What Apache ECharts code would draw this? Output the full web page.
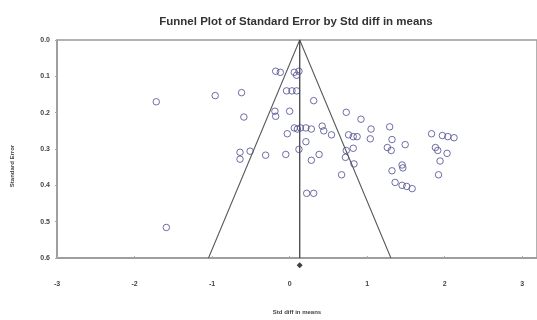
<!DOCTYPE html>
<html>
<head>
<meta charset="utf-8">
<script src="https://cdn.jsdelivr.net/npm/echarts@6/dist/echarts.min.js"></script>
<style>
  html, body { margin: 0; padding: 0; background: #fff; }
  #funnel { width: 537px; height: 320px; }
</style>
</head>
<body>
<div id="funnel"></div>
<script>
// study points: [std diff in means, standard error]
const studies = [
  [-1.72, 0.170], [-0.96, 0.153], [-0.62, 0.145], [-0.59, 0.212], [-0.64, 0.309],
  [-0.64, 0.328], [-0.51, 0.306], [-0.31, 0.317], [-1.59, 0.516], [-0.18, 0.086],
  [-0.12, 0.089], [0.06, 0.089], [0.12, 0.086], [0.09, 0.097], [-0.04, 0.140],
  [0.03, 0.140], [0.09, 0.140], [0.00, 0.196], [-0.19, 0.196], [-0.18, 0.210],
  [0.31, 0.167], [-0.03, 0.258], [0.06, 0.242], [0.14, 0.242], [0.21, 0.242],
  [0.28, 0.245], [0.10, 0.245], [0.73, 0.199], [0.92, 0.218], [1.05, 0.245],
  [1.29, 0.239], [1.83, 0.258], [1.97, 0.263], [2.04, 0.266], [2.12, 0.269],
  [0.42, 0.237], [0.44, 0.250], [0.54, 0.261], [0.76, 0.261], [0.82, 0.266],
  [0.87, 0.266], [1.04, 0.272], [1.32, 0.274], [1.49, 0.288], [1.26, 0.296],
  [1.31, 0.304], [1.88, 0.296], [1.91, 0.304], [2.03, 0.312], [0.21, 0.280],
  [0.12, 0.301], [-0.05, 0.315], [0.38, 0.315], [0.28, 0.331], [0.73, 0.304],
  [0.72, 0.323], [0.82, 0.298], [0.83, 0.341], [0.67, 0.371], [1.94, 0.333],
  [1.92, 0.371], [1.32, 0.360], [1.45, 0.344], [1.46, 0.352], [1.36, 0.392],
  [1.45, 0.400], [1.51, 0.403], [1.58, 0.409], [0.22, 0.422], [0.31, 0.422]
];
const pooledMean = 0.13;
const funnelLines = [[-1.046, 0.6], [0.13, 0], [1.306, 0.6]];
const meanLine = [[0.13, 0], [0.13, 0.6]];
const summaryPoint = [[0.13, 0.62]];

const chart = echarts.init(document.getElementById("funnel"));
const labelFont = { color: "#444", fontSize: 7, fontWeight: "bold", fontFamily: "Liberation Sans" };

const option = {
  animation: false,
  title: {
    text: "Funnel Plot of Standard Error by Std diff in means",
    left: 291,
    top: 11,
    textAlign: "center",
    textStyle: { color: "#333", fontSize: 11.5, fontWeight: "bold", fontFamily: "Liberation Sans" }
  },
  grid: {
    left: 57,
    top: 40,
    right: -3,
    bottom: 57,
    show: true,
    borderColor: "#999",
    borderWidth: 1.5
  },
  xAxis: {
    type: "value",
    min: -3,
    max: 3.19,
    interval: 1,
    name: "Std diff in means",
    nameLocation: "middle",
    nameGap: 51,
    nameTextStyle: { color: "#444", fontSize: 6, fontWeight: "bold", fontFamily: "Liberation Sans" },
    axisLine: { onZero: false, lineStyle: { color: "#999", width: 1.5 } },
    axisTick: { inside: true, length: 2, lineStyle: { color: "#aaa" } },
    axisLabel: Object.assign({ margin: 23, showMaxLabel: false }, labelFont),
    splitLine: { show: false }
  },
  yAxis: {
    type: "value",
    inverse: true,
    min: 0,
    max: 0.6,
    interval: 0.1,
    axisLine: { show: true, onZero: false, lineStyle: { color: "#999", width: 1.5 } },
    axisTick: { show: true, length: 2, lineStyle: { color: "#aaa" } },
    axisLabel: Object.assign({ margin: 7, formatter: v => v.toFixed(1) }, labelFont),
    splitLine: { show: false }
  },
  graphic: [{
    type: "text",
    x: 12,
    y: 166,
    rotation: Math.PI / 2,
    style: {
      text: "Standard Error",
      fill: "#444",
      fontSize: 6,
      fontWeight: "bold",
      fontFamily: "Liberation Sans",
      align: "center",
      verticalAlign: "middle"
    }
  }],
  series: [
    {
      type: "line",
      data: funnelLines,
      symbol: "none",
      lineStyle: { color: "#5a5a5a", width: 1.1 },
      z: 2
    },
    {
      type: "line",
      data: meanLine,
      symbol: "none",
      lineStyle: { color: "#444", width: 1.3 },
      z: 2
    },
    {
      type: "scatter",
      data: studies,
      symbol: "circle",
      symbolSize: 6.5,
      itemStyle: { color: "rgba(255,255,255,0)", borderColor: "#4b4b8c", borderWidth: 1 },
      z: 3
    },
    {
      type: "scatter",
      data: summaryPoint,
      symbol: "diamond",
      symbolSize: 6,
      clip: false,
      itemStyle: { color: "#111" },
      z: 4
    }
  ]
};
chart.setOption(option);
</script>
</body>
</html>
